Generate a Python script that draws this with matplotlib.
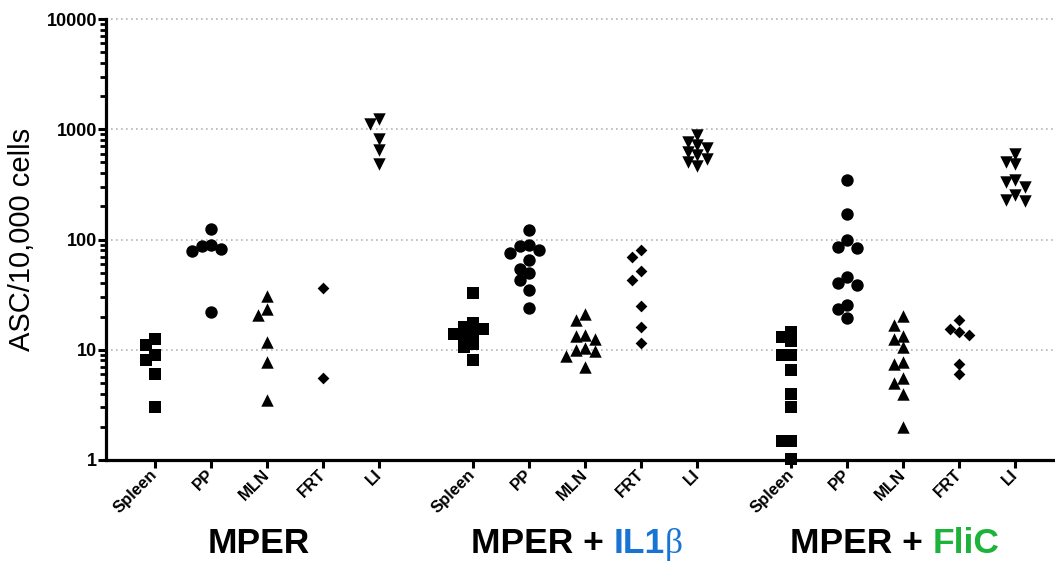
import numpy as np
import matplotlib
matplotlib.use("Agg")
import matplotlib.pyplot as plt
from matplotlib.ticker import LogLocator, FixedLocator, NullFormatter

plt.rcParams['font.family'] = ['Liberation Sans', 'DejaVu Sans']

# ---------------- data ----------------
categories = ["Spleen", "PP", "MLN", "FRT", "LI"]
group_names = ["MPER", "MPER + IL1β", "MPER + FliC"]
y_ticks = [1, 10, 100, 1000, 10000]
y_tick_labels = ["1", "10", "100", "1000", "10000"]

mper_spleen = [12.5, 11.0, 8.9, 8.1, 6.0, 3.0]
mper_pp = [125, 89, 87, 82, 78, 22]
mper_mln = [30.5, 23.4, 20.5, 11.8, 7.8, 3.5]
mper_frt = [36, 5.5]
mper_li = [1250, 1110, 811, 644, 481]

il1_spleen = [33, 17.5, 16, 15.5, 14.5, 14, 13, 11.2, 10.6, 8.0]
il1_pp = [121, 90, 88, 80, 75, 65, 54, 50, 43, 35, 24]
il1_mln = [21.2, 18.7, 13.7, 13.2, 12.5, 10.4, 9.9, 9.8, 8.7, 7.0]
il1_frt = [79.6, 69, 51.5, 42.7, 24.8, 16, 11.5]
il1_li = [890, 760, 720, 680, 620, 590, 540, 500, 460]

flic_spleen = [14.5, 13, 12, 8.9, 8.9, 6.6, 4.0, 3.0, 1.5, 1.5, 1.02]
flic_pp = [346, 171, 100, 85, 83, 46, 40, 38.5, 25.7, 23.4, 19.4]
flic_mln = [20.1, 16.9, 13.2, 12.5, 10.7, 7.8, 7.5, 5.5, 5.0, 4.0, 2.0]
flic_frt = [18.5, 15.5, 14.5, 13.5, 7.5, 6.0]
flic_li = [601, 505, 481, 346, 332, 299, 251, 226, 223]

groups = [
    [mper_spleen, mper_pp, mper_mln, mper_frt, mper_li],
    [il1_spleen, il1_pp, il1_mln, il1_frt, il1_li],
    [flic_spleen, flic_pp, flic_mln, flic_frt, flic_li],
]

# ---------------- style ----------------
markers = ['s', 'o', '^', 'D', 'v']
sizes = [76, 80, 80, 36, 80]
blue = '#1874d2'
green = '#1db33b'
group_gap = 0.68

W, H = 1055, 563
fig = plt.figure(figsize=(W / 100, H / 100), dpi=100)
left_px, right_px, top_px, bot_px = 106, 1055, 19, 460
ax = fig.add_axes([left_px / W, 1 - bot_px / H, (right_px - left_px) / W, (bot_px - top_px) / H])
ax.set_yscale('log')
ax.set_ylim(1, 10000)
ax.set_xlim(-0.875, 16.07)

positions = []
for g in range(3):
    for i in range(5):
        positions.append(g * (5 + group_gap) + i)


def swarm(values, xc, step_px=9.5, min_px=9.0):
    vals = np.asarray(values, dtype=float)
    pts = ax.transData.transform(np.column_stack([np.full(len(vals), xc), vals]))
    order = np.argsort(-vals, kind='stable')
    placed = []
    offs = np.zeros(len(vals))
    for i in order:
        y = pts[i, 1]
        cand = 0.0
        for k in range(0, 40):
            cand = 0.0 if k == 0 else ((k + 1) // 2) * step_px * (-1 if k % 2 else 1)
            if all((cand - ox) ** 2 + (y - oy) ** 2 >= min_px ** 2 for ox, oy in placed):
                break
        placed.append((cand, y))
        offs[i] = cand
    px = np.column_stack([pts[:, 0] + offs, pts[:, 1]])
    return ax.transData.inverted().transform(px)[:, 0]


for g, grp in enumerate(groups):
    for i, vals in enumerate(grp):
        xc = g * (5 + group_gap) + i
        xs = swarm(vals, xc)
        ax.scatter(xs, vals, marker=markers[i], s=sizes[i], color='black',
                   linewidths=0, zorder=3, clip_on=False)

# grid
for yv in y_ticks[1:]:
    ax.axhline(yv, color='#b5b5b5', lw=1.2, ls=(0, (1, 2)), zorder=1, clip_on=False)

# spines
for s in ['top', 'right']:
    ax.spines[s].set_visible(False)
for s in ['left', 'bottom']:
    ax.spines[s].set_linewidth(2.3)
    ax.spines[s].set_capstyle('projecting')

ax.yaxis.set_major_locator(FixedLocator(y_ticks))
ax.set_yticklabels(y_tick_labels, fontsize=13, fontweight='bold')
ax.yaxis.set_minor_locator(LogLocator(base=10, subs=np.arange(2, 10)))
ax.yaxis.set_minor_formatter(NullFormatter())
ax.tick_params(axis='y', which='major', length=6, width=2.2, pad=0.5, direction='out')
ax.tick_params(axis='y', which='minor', length=4, width=2.0, direction='out')

ax.set_xticks(positions)
ax.set_xticklabels(categories * 3, rotation=45, ha='right', va='center',
                   rotation_mode='anchor', fontsize=12, fontweight='bold')
ax.tick_params(axis='x', which='major', length=5.5, width=2.2, pad=3, direction='out')
ax.tick_params(axis='x', which='minor', length=0)

ax.set_ylabel("ASC/10,000 cells", fontsize=21, va='center')
ax.yaxis.set_label_coords((22 - left_px) / (right_px - left_px), 0.5)

# group labels with coloured parts
renderer = fig.canvas.get_renderer()
label_parts = [
    [("MPER", 'black', {})],
    [("MPER +", 'black', {}), (" ", None, {}), ("IL1", blue, {}),
     ("β", blue, {'family': ['Liberation Serif', 'DejaVu Serif'], 'fontweight': 'normal'})],
    [("MPER +", 'black', {}), (" ", None, {}), ("FliC", green, {})],
]
base_y = 10 / H
fs_group = 25.5
for g, parts in enumerate(label_parts):
    xc_data = g * (5 + group_gap) + 2
    xc_px = ax.transData.transform((xc_data, 1))[0] - 8
    texts, widths = [], []
    for s, col, kw in parts:
        if col is None:
            texts.append(None)
            widths.append(fs_group * 100 / 72 * 0.278)
            continue
        kwargs = dict(fontsize=fs_group, fontweight='bold', va='baseline', ha='left')
        kwargs.update(kw)
        t = fig.text(0, base_y, s, color=col, **kwargs)
        texts.append(t)
        widths.append(t.get_window_extent(renderer).width)
    x = xc_px - sum(widths) / 2
    for t, w in zip(texts, widths):
        if t is not None:
            t.set_x(x / W)
        x += w

fig.savefig("out.png", dpi=100)
